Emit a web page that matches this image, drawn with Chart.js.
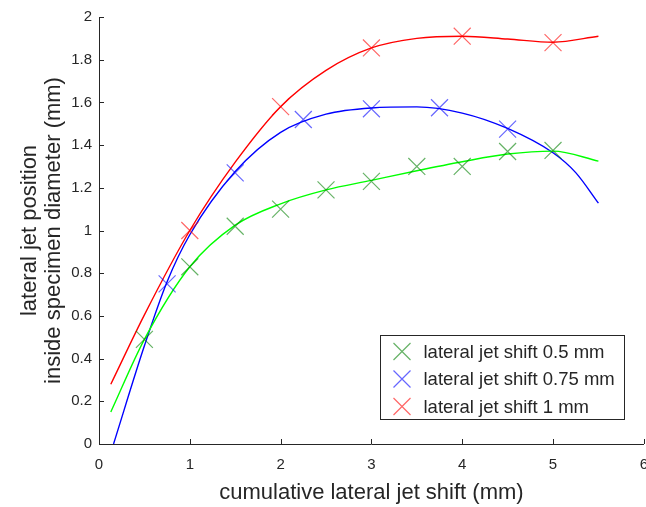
<!DOCTYPE html>
<html><head><meta charset="utf-8">
<script src="https://cdn.jsdelivr.net/npm/chart.js@4.4.0/dist/chart.umd.min.js"></script>
<style>html,body{margin:0;padding:0;overflow:hidden;background:#fff;width:646px;height:507px}canvas{display:block}</style>
</head><body>
<canvas id="c" width="660" height="507"></canvas>
<script>
// ---- data ----
const seriesLabels = ['lateral jet shift 0.5 mm', 'lateral jet shift 0.75 mm', 'lateral jet shift 1 mm'];
const xTitle = 'cumulative lateral jet shift (mm)';
const yTitle = ['lateral jet position', 'inside specimen diameter (mm)'];
const xTickValues = [0, 1, 2, 3, 4, 5, 6];
const yTickValues = [0, 0.2, 0.4, 0.6, 0.8, 1, 1.2, 1.4, 1.6, 1.8, 2];
const xTickLabels = ['0', '1', '2', '3', '4', '5', '6'];
const yTickLabels = ['0', '0.2', '0.4', '0.6', '0.8', '1', '1.2', '1.4', '1.6', '1.8', '2'];

// measured points (markers)
const greenX = [0.5, 1, 1.5, 2, 2.5, 3, 3.5, 4, 4.5, 5];
const greenY = [0.49, 0.83, 1.02, 1.10, 1.19, 1.23, 1.30, 1.30, 1.37, 1.375];
const blueX = [0.75, 1.5, 2.25, 3, 3.75, 4.5];
const blueY = [0.75, 1.27, 1.52, 1.57, 1.575, 1.475];
const redX = [1, 2, 3, 4, 5];
const redY = [1.0, 1.58, 1.855, 1.91, 1.88];

// fitted curves
const greenFitX = [0.13, 0.5, 1.0, 1.5, 2.0, 2.5, 3.0, 3.5, 4.0, 4.5, 5.0, 5.5];
const greenFitY = [0.15, 0.49, 0.83, 1.025, 1.125, 1.19, 1.235, 1.28, 1.322, 1.358, 1.372, 1.325];
const blueFitX = [0.16, 0.5, 0.75, 1.0, 1.5, 2.0, 2.5, 3.0, 3.5, 4.0, 4.5, 5.0, 5.25, 5.5];
const blueFitY = [0, 0.46, 0.76, 0.98, 1.276, 1.46, 1.545, 1.574, 1.579, 1.55, 1.478, 1.364, 1.271, 1.128];
const redFitX = [0.13, 0.5, 1.0, 1.5, 2.0, 2.5, 3.0, 3.5, 4.0, 4.5, 5.0, 5.5];
const redFitY = [0.28, 0.605, 1.0, 1.32, 1.58, 1.75, 1.855, 1.9, 1.91, 1.897, 1.882, 1.91];

// ---- styling ----
const TEXT = '#262626';
const FONT = "'Liberation Sans', Arial, Helvetica, sans-serif";
const lineColors = ['#00ff00', '#0000ff', '#ff0000'];
const markerColors = ['rgba(0,128,0,0.6)', 'rgba(0,0,255,0.6)', 'rgba(255,0,0,0.6)'];

const pts = (xs, ys) => xs.map((x, i) => ({x: x, y: ys[i]}));

const curve = (xs, ys, c) => ({
  type: 'line', data: pts(xs, ys), borderColor: c, borderWidth: 1.4,
  pointRadius: 0, pointHoverRadius: 0, fill: false, cubicInterpolationMode: 'monotone',
  isFit: true, order: 2
});
const marks = (xs, ys, label, c) => ({
  type: 'scatter', label: label, data: pts(xs, ys), showLine: false,
  pointStyle: 'crossRot', pointRadius: 12, pointBorderWidth: 1.2,
  pointBorderColor: c, pointBackgroundColor: c, borderColor: c, backgroundColor: c, order: 1
});

const inwardTicks = {
  id: 'inwardTicks',
  afterDraw(chart) {
    const ctx = chart.ctx, xs = chart.scales.x, ys = chart.scales.y;
    ctx.save();
    ctx.strokeStyle = TEXT; ctx.lineWidth = 1;
    ctx.beginPath();
    xTickValues.forEach(v => {
      const px = Math.round(xs.getPixelForValue(v)) + 0.5;
      ctx.moveTo(px, ys.bottom); ctx.lineTo(px, ys.bottom - 5);
    });
    yTickValues.forEach(v => {
      const py = Math.round(ys.getPixelForValue(v)) + 0.5;
      ctx.moveTo(xs.left, py); ctx.lineTo(xs.left + 5, py);
    });
    ctx.stroke();
    ctx.restore();
  }
};

const boxLegend = {
  id: 'boxLegend',
  afterDraw(chart) {
    const ctx = chart.ctx;
    const items = chart.data.datasets.filter(d => !d.isFit);
    const L = 380.5, T = 335.5, W = 244, H = 84;
    ctx.save();
    ctx.fillStyle = '#fff';
    ctx.fillRect(L, T, W, H);
    ctx.strokeStyle = TEXT; ctx.lineWidth = 1;
    ctx.strokeRect(L, T, W, H);
    ctx.font = '18.5px ' + FONT;
    ctx.textBaseline = 'middle';
    ctx.textAlign = 'left';
    items.forEach((d, i) => {
      const cy = T + 16 + i * 27.5;
      const cx = L + 21.5;
      const h = 8.5;
      ctx.strokeStyle = d.pointBorderColor; ctx.lineWidth = 1.2;
      ctx.beginPath();
      ctx.moveTo(cx - h, cy - h); ctx.lineTo(cx + h, cy + h);
      ctx.moveTo(cx - h, cy + h); ctx.lineTo(cx + h, cy - h);
      ctx.stroke();
      ctx.fillStyle = TEXT;
      ctx.fillText(d.label, L + 43, cy + 1);
    });
    ctx.restore();
  }
};

new Chart(document.getElementById('c'), {
  data: {
    datasets: [
      curve(greenFitX, greenFitY, lineColors[0]),
      curve(blueFitX, blueFitY, lineColors[1]),
      curve(redFitX, redFitY, lineColors[2]),
      marks(greenX, greenY, seriesLabels[0], markerColors[0]),
      marks(blueX, blueY, seriesLabels[1], markerColors[1]),
      marks(redX, redY, seriesLabels[2], markerColors[2])
    ]
  },
  options: {
    responsive: false, animation: false, devicePixelRatio: 1,
    layout: {padding: {top: 17, right: 15, left: 0, bottom: 0}},
    plugins: {legend: {display: false}, tooltip: {enabled: false}},
    scales: {
      x: {
        type: 'linear', min: 0, max: 6,
        afterBuildTicks: s => { s.ticks = xTickValues.map(v => ({value: v})); },
        afterFit: s => { s.height = 63; },
        grid: {display: false, drawTicks: false},
        border: {display: true, color: TEXT, width: 1},
        ticks: {color: TEXT, font: {family: FONT, size: 15}, padding: 12, maxRotation: 0, autoSkip: false,
                callback: (v, i) => xTickLabels[i]},
        title: {display: true, text: xTitle, color: TEXT, font: {family: FONT, size: 22}, padding: {top: 0, bottom: 1}}
      },
      y: {
        type: 'linear', min: 0, max: 2,
        afterBuildTicks: s => { s.ticks = yTickValues.map(v => ({value: v})); },
        afterFit: s => { s.width = 99; },
        grid: {display: false, drawTicks: false},
        border: {display: true, color: TEXT, width: 1},
        ticks: {color: TEXT, font: {family: FONT, size: 15}, padding: 7, autoSkip: false,
                callback: (v, i) => yTickLabels[i]},
        title: {display: true, text: yTitle, color: TEXT, font: {family: FONT, size: 22, lineHeight: 1.08}, padding: {top: 18, bottom: 0}}
      }
    }
  },
  plugins: [inwardTicks, boxLegend]
});
</script>
</body></html>
